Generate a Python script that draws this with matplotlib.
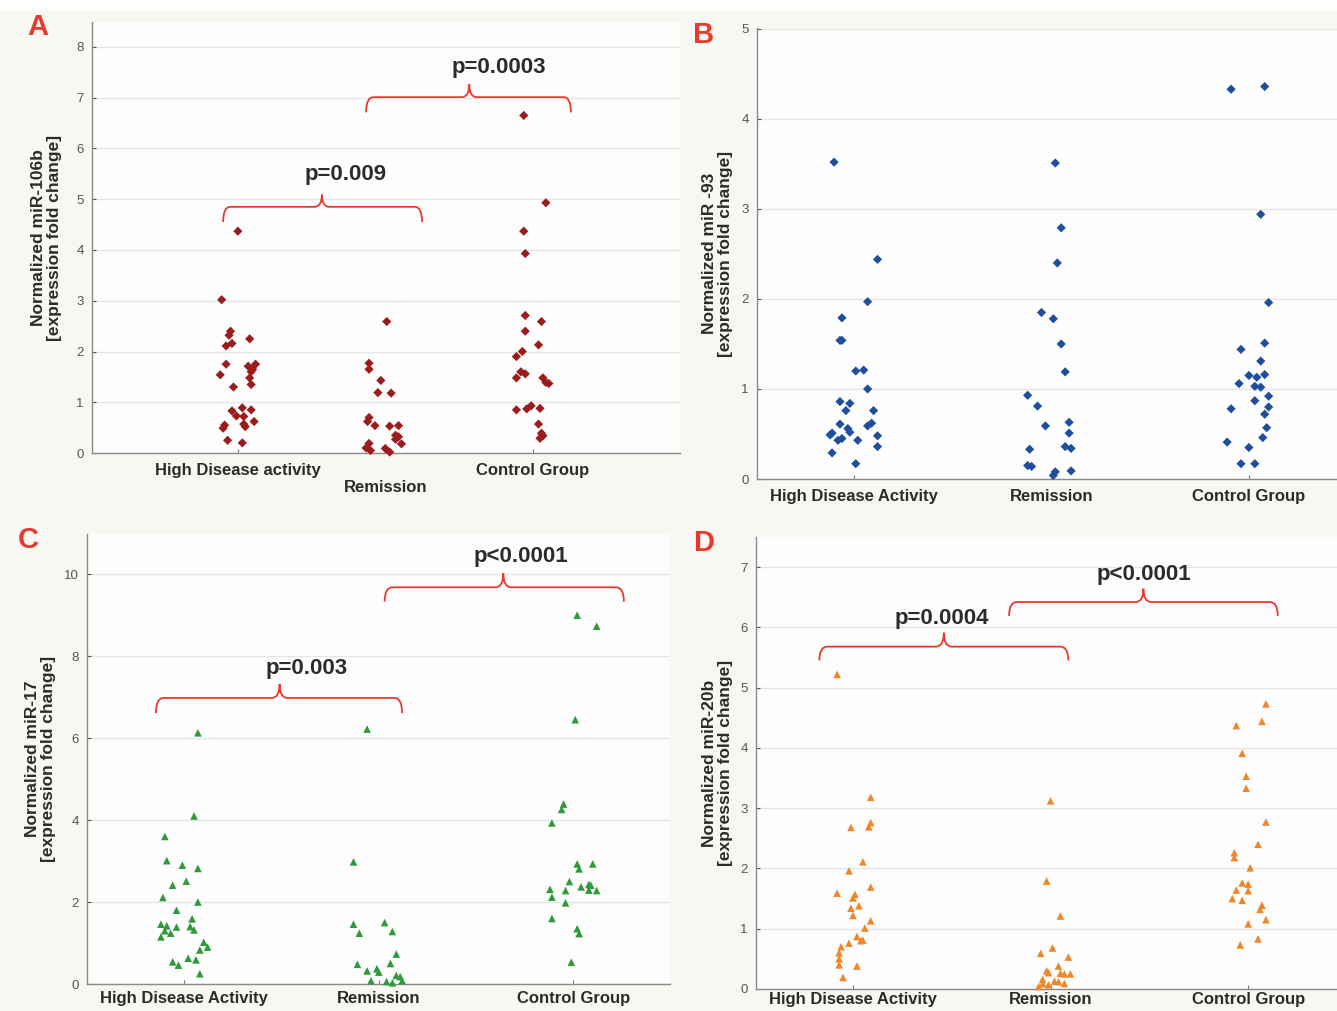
import numpy as np
import matplotlib
matplotlib.use("Agg")
import matplotlib.pyplot as plt
from matplotlib.path import Path
from matplotlib.patches import PathPatch, Rectangle

plt.rcParams['font.family'] = ['Liberation Sans', 'DejaVu Sans']

# ---- data (x offsets = horizontal jitter in category units)
a_high = [4.37, 3.02, 2.40, 2.32, 2.25, 2.16, 2.11, 1.75, 1.71, 1.75, 1.65, 1.60, 1.54, 1.48,
          1.30, 1.35, 0.89, 0.83, 0.85, 0.73, 0.72, 0.62, 0.57, 0.55, 0.49, 0.52, 0.25, 0.20]
a_high_dx = [0.00, -0.11, -0.05, -0.06, 0.08, -0.04, -0.08, -0.08, 0.07, 0.12, 0.10, 0.09, -0.12, 0.08,
             -0.03, 0.09, 0.03, -0.04, 0.09, -0.01, 0.04, 0.11, 0.04, -0.09, -0.10, 0.05, -0.07, 0.03]
a_rem = [2.59, 1.77, 1.65, 1.43, 1.19, 1.18, 0.70, 0.62, 0.54, 0.53, 0.54, 0.35, 0.32, 0.27,
         0.18, 0.19, 0.10, 0.05, 0.09, 0.02]
a_rem_dx = [0.01, -0.11, -0.11, -0.03, -0.05, 0.04, -0.11, -0.12, -0.07, 0.03, 0.09, 0.07, 0.09, 0.07,
            0.11, -0.11, -0.13, -0.10, 0.00, 0.03]
a_ctrl = [6.65, 4.93, 4.37, 3.93, 2.71, 2.59, 2.40, 2.13, 2.00, 1.90, 1.60, 1.56, 1.48, 1.48,
          1.39, 1.37, 0.93, 0.87, 0.85, 0.88, 0.57, 0.39, 0.34, 0.29]
a_ctrl_dx = [-0.06, 0.09, -0.06, -0.05, -0.05, 0.06, -0.05, 0.04, -0.07, -0.11, -0.08, -0.05, -0.11, 0.07,
             0.09, 0.11, -0.01, -0.04, -0.11, 0.05, 0.04, 0.06, 0.07, 0.05]

b_high = [3.52, 2.44, 1.97, 1.79, 1.54, 1.54, 1.20, 1.21, 1.00, 0.86, 0.84, 0.76, 0.76, 0.61,
          0.59, 0.62, 0.56, 0.52, 0.51, 0.49, 0.43, 0.45, 0.43, 0.48, 0.36, 0.29, 0.17]
b_high_dx = [-0.10, 0.12, 0.07, -0.06, -0.07, -0.06, 0.01, 0.05, 0.07, -0.07, -0.02, -0.04, 0.10, -0.07,
             0.07, 0.09, -0.03, -0.02, -0.11, -0.12, -0.08, -0.06, 0.02, 0.12, 0.12, -0.11, 0.01]
b_rem = [3.51, 2.79, 2.40, 1.85, 1.78, 1.50, 1.19, 0.93, 0.81, 0.59, 0.63, 0.51, 0.36, 0.34,
         0.33, 0.15, 0.14, 0.09, 0.08, 0.04]
b_rem_dx = [0.02, 0.05, 0.03, -0.05, 0.01, 0.05, 0.07, -0.12, -0.07, -0.03, 0.09, 0.09, 0.07, 0.10,
            -0.11, -0.12, -0.10, 0.10, 0.02, 0.01]
b_ctrl = [4.33, 4.36, 2.94, 1.96, 1.51, 1.44, 1.31, 1.15, 1.13, 1.16, 1.06, 1.03, 1.02, 0.92,
          0.87, 0.78, 0.80, 0.72, 0.57, 0.46, 0.41, 0.35, 0.17, 0.17]
b_ctrl_dx = [-0.09, 0.08, 0.06, 0.10, 0.08, -0.04, 0.06, 0.00, 0.04, 0.08, -0.05, 0.03, 0.06, 0.10,
             0.03, -0.09, 0.10, 0.08, 0.09, 0.07, -0.11, 0.00, -0.04, 0.03]

c_high = [6.13, 4.10, 3.60, 3.01, 2.90, 2.82, 2.41, 2.51, 2.11, 2.00, 1.80, 1.59, 1.46, 1.42,
          1.39, 1.40, 1.32, 1.30, 1.24, 1.15, 1.02, 0.90, 0.83, 0.54, 0.46, 0.63, 0.59, 0.25]
c_high_dx = [0.07, 0.05, -0.10, -0.09, -0.01, 0.07, -0.06, 0.01, -0.11, 0.07, -0.04, 0.04, -0.12, -0.09,
             -0.04, 0.03, 0.05, -0.10, -0.07, -0.12, 0.10, 0.12, 0.08, -0.06, -0.03, 0.02, 0.06, 0.08]
c_rem = [6.22, 2.98, 1.46, 1.50, 1.24, 1.28, 0.73, 0.48, 0.50, 0.32, 0.37, 0.29, 0.08, 0.06,
         0.21, 0.18, 0.03, 0.08]
c_rem_dx = [-0.06, -0.13, -0.13, 0.03, -0.10, 0.07, 0.09, -0.11, 0.06, -0.06, -0.01, 0.00, -0.04, 0.04,
            0.09, 0.11, 0.07, 0.12]
c_ctrl = [9.00, 8.73, 6.45, 4.39, 4.26, 3.93, 2.93, 2.81, 2.93, 2.50, 2.37, 2.43, 2.41, 2.29,
          2.28, 2.31, 2.28, 2.12, 1.98, 1.60, 1.35, 1.23, 0.53]
c_ctrl_dx = [0.02, 0.12, 0.01, -0.05, -0.06, -0.11, 0.02, 0.03, 0.10, -0.02, 0.04, 0.08, 0.09, 0.08,
             0.12, -0.12, -0.04, -0.11, -0.04, -0.11, 0.02, 0.03, -0.01]

d_high = [5.22, 3.18, 2.68, 2.76, 2.69, 2.11, 1.96, 1.59, 1.69, 1.57, 1.51, 1.34, 1.38, 1.22,
          1.13, 1.01, 0.87, 0.80, 0.81, 0.76, 0.70, 0.60, 0.50, 0.40, 0.38, 0.19]
d_high_dx = [-0.08, 0.09, -0.01, 0.09, 0.08, 0.05, -0.02, -0.08, 0.09, 0.01, 0.00, -0.01, 0.03, 0.00,
             0.09, 0.06, 0.02, 0.04, 0.05, -0.02, -0.06, -0.07, -0.07, -0.07, 0.02, -0.05]
d_rem = [3.12, 1.79, 1.21, 0.59, 0.68, 0.53, 0.38, 0.30, 0.27, 0.26, 0.25, 0.25, 0.16, 0.13,
         0.12, 0.09, 0.09, 0.07, 0.04]
d_rem_dx = [0.00, -0.02, 0.05, -0.05, 0.01, 0.09, 0.04, -0.02, -0.01, 0.05, 0.07, 0.10, -0.04, 0.02,
            0.04, 0.07, -0.04, -0.01, -0.06]
d_ctrl = [4.73, 4.44, 4.37, 3.91, 3.53, 3.33, 2.77, 2.40, 2.26, 2.18, 2.01, 1.76, 1.74, 1.64,
          1.63, 1.50, 1.47, 1.39, 1.32, 1.15, 1.08, 0.83, 0.73]
d_ctrl_dx = [0.09, 0.07, -0.06, -0.03, -0.01, -0.01, 0.09, 0.05, -0.07, -0.07, 0.01, -0.03, 0.00, -0.06,
             0.00, -0.08, -0.03, 0.07, 0.06, 0.09, 0.00, 0.05, -0.04]

labels_a = ["High Disease activity", "\nRemission", "Control Group"]
labels_bcd = ["High Disease Activity", "Remission", "Control Group"]

# ---- style
RED = "#e8392f"
BG = "#f8f7f1"
AXBG = "#fdfdfd"
TXT = "#2b2b2b"

fig = plt.figure(figsize=(13.37, 10.11), dpi=100, facecolor=BG)
fig.add_artist(Rectangle((0, 1 - 10 / 1011), 1, 10 / 1011, transform=fig.transFigure,
                         color="white", zorder=-5))


def make_ax(rect, xlim, ylim, yticks, xlabels, ylabel, lab_x, xpad=7):
    ax = fig.add_axes(rect, facecolor=AXBG)
    ax.set_xlim(*xlim)
    ax.set_ylim(*ylim)
    ax.set_yticks(yticks)
    ax.set_xticks([0, 1, 2])
    ax.set_xticklabels(xlabels, fontsize=12, fontweight="bold", color=TXT)
    ax.tick_params(axis="y", labelsize=9.5, colors="#555555", direction="in", length=3, pad=6)
    ax.tick_params(axis="x", direction="in", length=3, color="#777777", pad=xpad)
    for s in ["top", "right"]:
        ax.spines[s].set_visible(False)
    for s in ["left", "bottom"]:
        ax.spines[s].set_color("#8a8a8a")
        ax.spines[s].set_linewidth(1.0)
    ax.grid(axis="y", color="#e6e6e6", linewidth=1.0)
    ax.set_axisbelow(True)
    ax.set_ylabel(ylabel, fontsize=12.5, fontweight="bold", color=TXT, linespacing=1.1)
    ax.yaxis.set_label_coords(lab_x, 0.5)
    return ax


def groups(ax, data, marker, color, size):
    for i, (vals, dx) in enumerate(data):
        ax.scatter(np.array(dx) + i, vals, marker=marker, s=size, color=color,
                   edgecolors="none", zorder=3, clip_on=False)


def brace(ax, xl, xr, xm, y, drop, rise, rx, text, tx, ty):
    verts = [(xl, y - drop), (xl, y), (xl + rx, y), (xm - rx, y), (xm, y), (xm, y + rise),
             (xm, y), (xm + rx, y), (xr - rx, y), (xr, y), (xr, y - drop)]
    codes = [Path.MOVETO, Path.CURVE3, Path.CURVE3, Path.LINETO, Path.CURVE3, Path.CURVE3,
             Path.CURVE3, Path.CURVE3, Path.LINETO, Path.CURVE3, Path.CURVE3]
    ax.add_patch(PathPatch(Path(verts, codes), fill=False, edgecolor=RED, lw=1.3,
                           clip_on=False, zorder=4))
    ax.text(tx, ty, text, ha="center", va="center", fontsize=16, fontweight="bold",
            color=TXT, zorder=5)


# A
axA = make_ax([0.0688, 0.5519, 0.4398, 0.4263], (-0.99, 3.0), (0, 8.49), range(0, 9),
              labels_a, "Normalized miR-106b\n[expression fold change]", -0.051)
groups(axA, [(a_high, a_high_dx), (a_rem, a_rem_dx), (a_ctrl, a_ctrl_dx)], "D", "#9b1c1c", 22)
brace(axA, -0.10, 1.25, 0.57, 4.85, 0.30, 0.24, 0.05, "p=0.009", 0.73, 5.48)
brace(axA, 0.87, 2.26, 1.57, 7.01, 0.30, 0.26, 0.05, "p=0.0003", 1.77, 7.59)

# B
axB = make_ax([0.5662, 0.5262, 0.4338, 0.4461], (-0.49, 2.446), (0, 5.01), range(0, 6),
              labels_bcd, "Normalized miR -93\n[expression fold change]", -0.041)
groups(axB, [(b_high, b_high_dx), (b_rem, b_rem_dx), (b_ctrl, b_ctrl_dx)], "D", "#1f4f9c", 22)

# C
axC = make_ax([0.0651, 0.0267, 0.4360, 0.4451], (-0.5, 2.497), (0, 10.98), range(0, 11, 2),
              labels_bcd, "Normalized miR-17\n[expression fold change]", -0.053, xpad=5)
groups(axC, [(c_high, c_high_dx), (c_rem, c_rem_dx), (c_ctrl, c_ctrl_dx)], "^", "#2e9a3a", 30)
brace(axC, -0.146, 1.12, 0.49, 6.98, 0.37, 0.34, 0.04, "p=0.003", 0.63, 7.71)
brace(axC, 1.03, 2.26, 1.64, 9.68, 0.35, 0.34, 0.04, "p<0.0001", 1.73, 10.44)

# D
axD = make_ax([0.5654, 0.0218, 0.4345, 0.4471], (-0.491, 2.449), (0, 7.5), range(0, 8),
              labels_bcd, "Normalized miR-20b\n[expression fold change]", -0.040, xpad=2)
groups(axD, [(d_high, d_high_dx), (d_rem, d_rem_dx), (d_ctrl, d_ctrl_dx)], "^", "#f0862a", 30)
brace(axD, -0.17, 1.09, 0.46, 5.68, 0.23, 0.23, 0.04, "p=0.0004", 0.45, 6.14)
brace(axD, 0.79, 2.15, 1.47, 6.42, 0.23, 0.22, 0.04, "p<0.0001", 1.47, 6.87)

# panel letters
for lbl, x, y in [("A", 38, 27), ("B", 704, 35), ("C", 28, 540), ("D", 704, 543)]:
    fig.text(x / 1337, 1 - y / 1011, lbl, fontsize=21, fontweight="bold", color=RED,
             ha="center", va="center")

fig.savefig("out.png", dpi=100, facecolor=fig.get_facecolor())
